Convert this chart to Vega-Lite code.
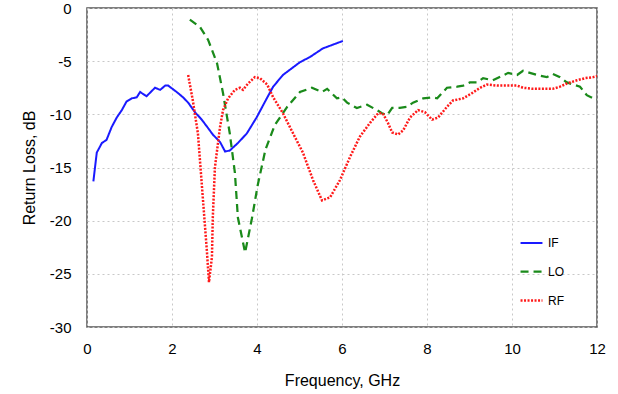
{
  "$schema": "https://vega.github.io/schema/vega-lite/v6.json",
  "width": 510,
  "height": 319,
  "autosize": {"type": "none"},
  "padding": {"left": 87, "top": 8, "right": 21, "bottom": 67},
  "background": "white",
  "config": {
    "view": {"stroke": "#555555", "strokeWidth": 1.5},
    "font": "Liberation Sans",
    "axis": {
      "grid": true,
      "gridColor": "#c8c8c8",
      "gridDash": [2, 3],
      "gridWidth": 1,
      "domain": false,
      "ticks": false,
      "labelFont": "Liberation Sans",
      "labelFontSize": 15,
      "labelColor": "#000000",
      "labelFlush": false,
      "titleFont": "Liberation Sans",
      "titleFontSize": 16,
      "titleFontWeight": "normal",
      "titleColor": "#000000"
    }
  },
  "data": {
    "values": [
      {"f": 0.15, "rl": -16.3, "s": "IF"},
      {"f": 0.23, "rl": -13.6, "s": "IF"},
      {"f": 0.35, "rl": -12.7, "s": "IF"},
      {"f": 0.46, "rl": -12.4, "s": "IF"},
      {"f": 0.58, "rl": -11.2, "s": "IF"},
      {"f": 0.70, "rl": -10.3, "s": "IF"},
      {"f": 0.82, "rl": -9.6, "s": "IF"},
      {"f": 0.93, "rl": -8.8, "s": "IF"},
      {"f": 1.05, "rl": -8.5, "s": "IF"},
      {"f": 1.17, "rl": -8.4, "s": "IF"},
      {"f": 1.25, "rl": -7.9, "s": "IF"},
      {"f": 1.40, "rl": -8.3, "s": "IF"},
      {"f": 1.60, "rl": -7.5, "s": "IF"},
      {"f": 1.72, "rl": -7.7, "s": "IF"},
      {"f": 1.84, "rl": -7.3, "s": "IF"},
      {"f": 1.91, "rl": -7.3, "s": "IF"},
      {"f": 2.11, "rl": -7.9, "s": "IF"},
      {"f": 2.26, "rl": -8.4, "s": "IF"},
      {"f": 2.38, "rl": -8.9, "s": "IF"},
      {"f": 2.54, "rl": -9.8, "s": "IF"},
      {"f": 2.70, "rl": -10.5, "s": "IF"},
      {"f": 2.85, "rl": -11.3, "s": "IF"},
      {"f": 2.96, "rl": -11.9, "s": "IF"},
      {"f": 3.13, "rl": -12.6, "s": "IF"},
      {"f": 3.25, "rl": -13.5, "s": "IF"},
      {"f": 3.36, "rl": -13.4, "s": "IF"},
      {"f": 3.55, "rl": -12.7, "s": "IF"},
      {"f": 3.76, "rl": -11.8, "s": "IF"},
      {"f": 3.99, "rl": -10.3, "s": "IF"},
      {"f": 4.19, "rl": -8.8, "s": "IF"},
      {"f": 4.38, "rl": -7.4, "s": "IF"},
      {"f": 4.61, "rl": -6.3, "s": "IF"},
      {"f": 5.01, "rl": -5.1, "s": "IF"},
      {"f": 5.25, "rl": -4.6, "s": "IF"},
      {"f": 5.55, "rl": -3.8, "s": "IF"},
      {"f": 6.02, "rl": -3.1, "s": "IF"},

      {"f": 2.42, "rl": -1.1, "s": "LO"},
      {"f": 2.66, "rl": -1.8, "s": "LO"},
      {"f": 2.85, "rl": -3.0, "s": "LO"},
      {"f": 3.06, "rl": -5.2, "s": "LO"},
      {"f": 3.20, "rl": -8.0, "s": "LO"},
      {"f": 3.36, "rl": -11.8, "s": "LO"},
      {"f": 3.48, "rl": -15.5, "s": "LO"},
      {"f": 3.55, "rl": -19.7, "s": "LO"},
      {"f": 3.72, "rl": -23.0, "s": "LO"},
      {"f": 3.88, "rl": -19.8, "s": "LO"},
      {"f": 4.02, "rl": -16.6, "s": "LO"},
      {"f": 4.20, "rl": -13.3, "s": "LO"},
      {"f": 4.42, "rl": -11.0, "s": "LO"},
      {"f": 4.71, "rl": -9.3, "s": "LO"},
      {"f": 5.01, "rl": -7.9, "s": "LO"},
      {"f": 5.29, "rl": -7.5, "s": "LO"},
      {"f": 5.53, "rl": -7.9, "s": "LO"},
      {"f": 5.65, "rl": -7.6, "s": "LO"},
      {"f": 5.88, "rl": -8.5, "s": "LO"},
      {"f": 6.00, "rl": -8.4, "s": "LO"},
      {"f": 6.12, "rl": -8.9, "s": "LO"},
      {"f": 6.35, "rl": -9.4, "s": "LO"},
      {"f": 6.59, "rl": -9.1, "s": "LO"},
      {"f": 6.82, "rl": -9.6, "s": "LO"},
      {"f": 6.94, "rl": -9.9, "s": "LO"},
      {"f": 7.06, "rl": -10.1, "s": "LO"},
      {"f": 7.18, "rl": -9.4, "s": "LO"},
      {"f": 7.36, "rl": -9.4, "s": "LO"},
      {"f": 7.53, "rl": -9.3, "s": "LO"},
      {"f": 7.67, "rl": -8.9, "s": "LO"},
      {"f": 7.91, "rl": -8.5, "s": "LO"},
      {"f": 8.12, "rl": -8.4, "s": "LO"},
      {"f": 8.24, "rl": -8.5, "s": "LO"},
      {"f": 8.47, "rl": -7.5, "s": "LO"},
      {"f": 8.71, "rl": -7.4, "s": "LO"},
      {"f": 8.85, "rl": -7.3, "s": "LO"},
      {"f": 9.01, "rl": -7.0, "s": "LO"},
      {"f": 9.18, "rl": -7.0, "s": "LO"},
      {"f": 9.32, "rl": -6.6, "s": "LO"},
      {"f": 9.55, "rl": -6.8, "s": "LO"},
      {"f": 9.76, "rl": -6.4, "s": "LO"},
      {"f": 9.91, "rl": -6.1, "s": "LO"},
      {"f": 10.12, "rl": -6.3, "s": "LO"},
      {"f": 10.26, "rl": -5.9, "s": "LO"},
      {"f": 10.42, "rl": -6.1, "s": "LO"},
      {"f": 10.59, "rl": -6.3, "s": "LO"},
      {"f": 10.82, "rl": -6.5, "s": "LO"},
      {"f": 10.96, "rl": -6.2, "s": "LO"},
      {"f": 11.13, "rl": -6.5, "s": "LO"},
      {"f": 11.29, "rl": -7.0, "s": "LO"},
      {"f": 11.44, "rl": -7.2, "s": "LO"},
      {"f": 11.60, "rl": -7.4, "s": "LO"},
      {"f": 11.76, "rl": -8.2, "s": "LO"},
      {"f": 11.91, "rl": -8.5, "s": "LO"},
      {"f": 12.0, "rl": -8.6, "s": "LO"},

      {"f": 2.38, "rl": -6.3, "s": "RF"},
      {"f": 2.49, "rl": -8.7, "s": "RF"},
      {"f": 2.61, "rl": -11.8, "s": "RF"},
      {"f": 2.73, "rl": -18.1, "s": "RF"},
      {"f": 2.82, "rl": -22.8, "s": "RF"},
      {"f": 2.87, "rl": -25.8, "s": "RF"},
      {"f": 2.94, "rl": -23.4, "s": "RF"},
      {"f": 2.96, "rl": -19.7, "s": "RF"},
      {"f": 3.01, "rl": -15.0, "s": "RF"},
      {"f": 3.06, "rl": -13.4, "s": "RF"},
      {"f": 3.13, "rl": -11.2, "s": "RF"},
      {"f": 3.20, "rl": -9.6, "s": "RF"},
      {"f": 3.32, "rl": -8.5, "s": "RF"},
      {"f": 3.48, "rl": -7.7, "s": "RF"},
      {"f": 3.60, "rl": -7.5, "s": "RF"},
      {"f": 3.67, "rl": -7.7, "s": "RF"},
      {"f": 3.79, "rl": -7.1, "s": "RF"},
      {"f": 3.95, "rl": -6.5, "s": "RF"},
      {"f": 4.07, "rl": -6.6, "s": "RF"},
      {"f": 4.24, "rl": -7.2, "s": "RF"},
      {"f": 4.38, "rl": -8.4, "s": "RF"},
      {"f": 4.61, "rl": -9.9, "s": "RF"},
      {"f": 4.85, "rl": -11.8, "s": "RF"},
      {"f": 5.08, "rl": -13.6, "s": "RF"},
      {"f": 5.32, "rl": -16.2, "s": "RF"},
      {"f": 5.53, "rl": -18.1, "s": "RF"},
      {"f": 5.72, "rl": -17.8, "s": "RF"},
      {"f": 5.95, "rl": -16.2, "s": "RF"},
      {"f": 6.19, "rl": -14.0, "s": "RF"},
      {"f": 6.42, "rl": -12.1, "s": "RF"},
      {"f": 6.66, "rl": -10.8, "s": "RF"},
      {"f": 6.85, "rl": -9.9, "s": "RF"},
      {"f": 6.96, "rl": -9.9, "s": "RF"},
      {"f": 7.08, "rl": -10.8, "s": "RF"},
      {"f": 7.18, "rl": -11.7, "s": "RF"},
      {"f": 7.32, "rl": -11.9, "s": "RF"},
      {"f": 7.44, "rl": -11.5, "s": "RF"},
      {"f": 7.60, "rl": -10.3, "s": "RF"},
      {"f": 7.79, "rl": -9.6, "s": "RF"},
      {"f": 7.95, "rl": -9.8, "s": "RF"},
      {"f": 8.12, "rl": -10.5, "s": "RF"},
      {"f": 8.26, "rl": -10.3, "s": "RF"},
      {"f": 8.47, "rl": -9.3, "s": "RF"},
      {"f": 8.61, "rl": -8.7, "s": "RF"},
      {"f": 8.85, "rl": -8.5, "s": "RF"},
      {"f": 9.06, "rl": -8.0, "s": "RF"},
      {"f": 9.25, "rl": -7.5, "s": "RF"},
      {"f": 9.41, "rl": -7.2, "s": "RF"},
      {"f": 9.65, "rl": -7.3, "s": "RF"},
      {"f": 9.88, "rl": -7.3, "s": "RF"},
      {"f": 10.12, "rl": -7.3, "s": "RF"},
      {"f": 10.26, "rl": -7.5, "s": "RF"},
      {"f": 10.49, "rl": -7.6, "s": "RF"},
      {"f": 10.73, "rl": -7.6, "s": "RF"},
      {"f": 10.96, "rl": -7.6, "s": "RF"},
      {"f": 11.13, "rl": -7.4, "s": "RF"},
      {"f": 11.29, "rl": -7.1, "s": "RF"},
      {"f": 11.53, "rl": -6.8, "s": "RF"},
      {"f": 11.72, "rl": -6.6, "s": "RF"},
      {"f": 11.91, "rl": -6.5, "s": "RF"},
      {"f": 12.0, "rl": -6.4, "s": "RF"}
    ]
  },
  "mark": {"type": "line", "clip": true},
  "encoding": {
    "x": {
      "field": "f",
      "type": "quantitative",
      "title": "Frequency, GHz",
      "scale": {"domain": [0, 12], "nice": false},
      "axis": {"values": [0, 2, 4, 6, 8, 10, 12], "labelPadding": 14, "titlePadding": 16}
    },
    "y": {
      "field": "rl",
      "type": "quantitative",
      "title": "Return Loss, dB",
      "scale": {"domain": [-30, 0], "nice": false},
      "axis": {"values": [-30, -25, -20, -15, -10, -5, 0], "labelPadding": 16, "titlePadding": 12, "labelExpr": "replace(datum.label, '\u2212', '-')"}
    },
    "color": {
      "field": "s",
      "type": "nominal",
      "scale": {"domain": ["IF", "LO", "RF"], "range": ["#1a1aff", "#1a8a1a", "#ff1a1a"]},
      "legend": {
        "title": null,
        "orient": "none",
        "legendX": 432,
        "legendY": 223,
        "symbolType": "stroke",
        "symbolSize": 480,
        "symbolStrokeWidth": 2.5,
        "rowPadding": 10,
        "labelFontSize": 12,
        "labelFont": "Liberation Sans",
        "labelColor": "#000000",
        "labelOffset": 4
      }
    },
    "strokeDash": {
      "field": "s",
      "type": "nominal",
      "scale": {"domain": ["IF", "LO", "RF"], "range": [[1, 0], [8, 5], [2, 1.5]]},
      "legend": null
    },
    "strokeWidth": {
      "field": "s",
      "type": "nominal",
      "scale": {"domain": ["IF", "LO", "RF"], "range": [2, 2.5, 3]},
      "legend": null
    }
  }
}
